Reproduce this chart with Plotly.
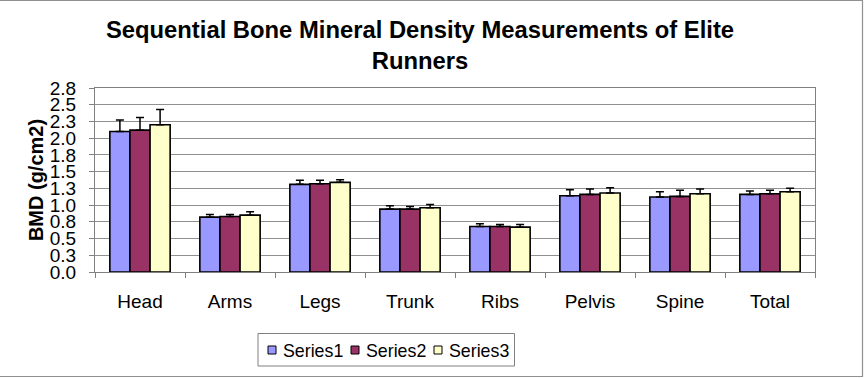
import plotly.graph_objects as go

categories = ["Head", "Arms", "Legs", "Trunk", "Ribs", "Pelvis", "Spine", "Total"]
series1 = [2.10, 0.82, 1.31, 0.94, 0.68, 1.14, 1.12, 1.16]
series2 = [2.12, 0.83, 1.32, 0.94, 0.68, 1.16, 1.13, 1.17]
series3 = [2.20, 0.85, 1.34, 0.96, 0.67, 1.18, 1.17, 1.20]
err1 = [0.17, 0.04, 0.06, 0.05, 0.04, 0.09, 0.08, 0.05]
err2 = [0.19, 0.03, 0.05, 0.04, 0.03, 0.08, 0.09, 0.05]
err3 = [0.23, 0.05, 0.04, 0.05, 0.04, 0.08, 0.07, 0.05]
tick_vals = [0, 0.25, 0.5, 0.75, 1.0, 1.25, 1.5, 1.75, 2.0, 2.25, 2.5, 2.75]
tick_text = ["0.0", "0.3", "0.5", "0.8", "1.0", "1.3", "1.5", "1.8", "2.0", "2.3", "2.5", "2.8"]

names = ["Series1", "Series2", "Series3"]
colors = ["#9999FF", "#993366", "#FFFFCC"]

fig = go.Figure()
for name, vals, errs, col in zip(names, [series1, series2, series3], [err1, err2, err3], colors):
    fig.add_trace(go.Bar(
        x=categories, y=vals, name=name, showlegend=False,
        marker=dict(color=col, line=dict(color="black", width=1.6)),
        error_y=dict(type="data", array=errs, arrayminus=[0] * len(errs), symmetric=False,
                     color="black", thickness=1.5, width=4),
    ))

W, H = 868, 378
L, R, T, B = 95, 53, 88, 106
pw, ph = W - L - R, H - T - B


def px(x):
    return (x - L) / pw


def py(y):
    return (H - B - y) / ph


shapes = [
    # outer chart border
    dict(type="rect", xref="paper", yref="paper",
         x0=px(-1), x1=px(862.5), y0=py(376.5), y1=py(0.5),
         line=dict(color="#909090", width=1.2), fillcolor="rgba(0,0,0,0)"),
    # legend box
    dict(type="rect", xref="paper", yref="paper",
         x0=px(258), x1=px(514.5), y0=py(366), y1=py(333.5),
         line=dict(color="#808080", width=1), fillcolor="white"),
]
annotations = []
sq_x = [268, 351, 434]
tx_x = [281, 364, 447]
for name, col, sx, tx in zip(names, colors, sq_x, tx_x):
    shapes.append(dict(type="rect", xref="paper", yref="paper",
                       x0=px(sx), x1=px(sx + 8), y0=py(354), y1=py(346),
                       line=dict(color="black", width=1), fillcolor=col))
    annotations.append(dict(text=name, xref="paper", yref="paper", x=px(tx), y=py(350.5),
                            xanchor="left", yanchor="middle", showarrow=False,
                            font=dict(size=17.8, color="black")))

fig.update_layout(
    width=W, height=H,
    margin=dict(l=L, r=R, t=T, b=B),
    paper_bgcolor="white", plot_bgcolor="white",
    font=dict(family="Liberation Sans, Arial, sans-serif", color="black"),
    title=dict(text="<b>Sequential Bone Mineral Density Measurements of Elite<br>Runners</b>",
               x=420 / W, xanchor="center", xref="container",
               y=1 - 38 / H, yanchor="middle", yref="container",
               font=dict(size=23.8, color="black")),
    barmode="group", bargap=0.33, bargroupgap=0,
    showlegend=False,
    xaxis=dict(showline=True, linecolor="#808080", linewidth=1,
               ticks="outside", ticklen=5, tickcolor="#808080",
               tickson="boundaries", tickfont=dict(size=19), mirror=True,
               ticklabelstandoff=12),
    yaxis=dict(range=[0, 2.75], tickvals=tick_vals, ticktext=tick_text,
               showline=True, linecolor="#808080", linewidth=1, mirror=True,
               ticks="outside", ticklen=5, tickcolor="#808080",
               tickfont=dict(size=19), ticklabelstandoff=9,
               showgrid=True, gridcolor="#909090", gridwidth=1,
               title=dict(text="<b>BMD (g/cm2)</b>", font=dict(size=20), standoff=0)),
    shapes=shapes,
    annotations=annotations,
)

fig.write_html("out.html")
